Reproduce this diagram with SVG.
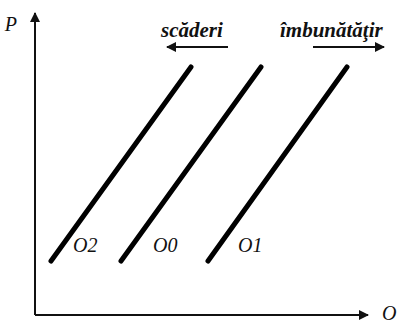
<svg xmlns="http://www.w3.org/2000/svg" width="403" height="326" viewBox="0 0 403 326">
<style>
.ax{stroke:#111;stroke-width:2;fill:none}
.ln{stroke:#000;stroke-width:5;stroke-linecap:round}
.lab{font-family:"Liberation Serif",serif;font-style:italic;font-size:20px;fill:#111}
.hd{font-family:"Liberation Serif",serif;font-style:italic;font-weight:bold;font-size:21px;fill:#111}
</style>
<defs>
<marker id="ah" viewBox="0 0 10 10" refX="9" refY="5" markerWidth="5" markerHeight="5" orient="auto-start-reverse" markerUnits="strokeWidth">
<path d="M0,0 L10,5 L0,10 z" fill="#111"/>
</marker>
</defs>
<g id="connectors">
<line class="ax" x1="35" y1="315" x2="35" y2="13" marker-end="url(#ah)"/>
<line class="ax" x1="35" y1="315" x2="368" y2="315" marker-end="url(#ah)"/>
<line class="ax" x1="228" y1="47" x2="167" y2="47" marker-end="url(#ah)"/>
<line class="ax" x1="313" y1="47" x2="384" y2="47" marker-end="url(#ah)"/>
</g>
<g id="O2"><line class="ln" x1="51" y1="261" x2="191" y2="67"/><text class="lab" x="73" y="252">O2</text></g>
<g id="O0"><line class="ln" x1="121" y1="261" x2="261" y2="67"/><text class="lab" x="153" y="252">O0</text></g>
<g id="O1"><line class="ln" x1="208" y1="261" x2="347" y2="67"/><text class="lab" x="238" y="252">O1</text></g>
<text class="hd" x="161" y="37">scăderi</text>
<text class="hd" x="280" y="37">îmbunătăţir</text>
<text class="lab" x="17" y="31" text-anchor="end">P</text>
<text class="lab" x="382" y="320">O</text>
</svg>
